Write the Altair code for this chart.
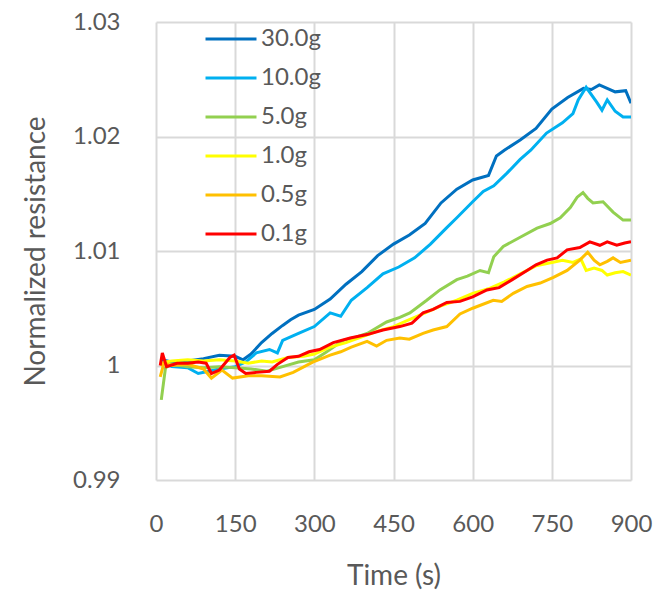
import altair as alt
import pandas as pd

# Normalized resistance vs. time for each applied load
labels = ["30.0g", "10.0g", "5.0g", "1.0g", "0.5g", "0.1g"]
colors = ["#0070C0", "#00B0F0", "#92D050", "#FFFF00", "#FFC000", "#FF0000"]

t_30 = [10, 30, 60, 90, 120, 150, 165, 180, 200, 220, 240, 255, 270, 300, 330, 360, 390, 420,
        450, 480, 510, 540, 570, 600, 630, 645, 660, 690, 720, 750, 780, 810, 825, 840, 870, 890, 900]
r_30 = [1.0005, 1.0003, 1.0004, 1.0006, 1.0009, 1.0008, 1.0005, 1.0010, 1.0020, 1.0028, 1.0035,
        1.0040, 1.0044, 1.0049, 1.0058, 1.0071, 1.0082, 1.0096, 1.0106, 1.0114, 1.0124, 1.0142,
        1.0154, 1.0162, 1.0166, 1.0183, 1.0188, 1.0197, 1.0207, 1.0224, 1.0234, 1.0242, 1.0241,
        1.0245, 1.0239, 1.0240, 1.0229]

t_10 = [10, 30, 60, 80, 100, 120, 150, 170, 190, 215, 230, 240, 270, 300, 330, 350, 370, 400,
        430, 460, 490, 520, 550, 570, 600, 620, 640, 665, 690, 710, 740, 770, 790, 800, 815, 835,
        845, 855, 870, 885, 900]
r_10 = [1.0003, 0.9999, 0.9998, 0.9993, 0.9995, 0.9997, 0.9999, 1.0003, 1.0011, 1.0014, 1.0011,
        1.0022, 1.0028, 1.0034, 1.0046, 1.0043, 1.0057, 1.0068, 1.0080, 1.0086, 1.0094, 1.0106,
        1.0120, 1.0129, 1.0143, 1.0152, 1.0157, 1.0168, 1.0180, 1.0188, 1.0203, 1.0212, 1.0220,
        1.0232, 1.0243, 1.0230, 1.0223, 1.0232, 1.0222, 1.0217, 1.0217]

t_5 = [10, 18, 30, 60, 90, 120, 150, 180, 210, 240, 270, 300, 320, 355, 380, 400, 437, 462, 481,
       513, 538, 570, 590, 614, 630, 640, 658, 690, 722, 747, 766, 785, 798, 809, 818, 828, 847,
       866, 885, 900]
r_5 = [0.9970, 0.9998, 1.0001, 0.9999, 0.9998, 0.9999, 0.9998, 0.9997, 0.9995, 0.9999, 1.0003,
       1.0005, 1.0011, 1.0022, 1.0025, 1.0028, 1.0038, 1.0042, 1.0046, 1.0057, 1.0066, 1.0075,
       1.0078, 1.0083, 1.0081, 1.0095, 1.0104, 1.0112, 1.0120, 1.0124, 1.0129, 1.0138, 1.0147,
       1.0151, 1.0146, 1.0142, 1.0143, 1.0134, 1.0127, 1.0127]

t_1 = [8, 15, 30, 60, 90, 120, 150, 175, 200, 220, 250, 280, 300, 330, 360, 390, 420, 450, 480,
       510, 540, 570, 600, 630, 660, 690, 720, 750, 770, 790, 805, 815, 830, 845, 855, 870, 885, 900]
r_1 = [1.0000, 1.0003, 1.0004, 1.0005, 1.0004, 1.0005, 1.0004, 1.0002, 1.0004, 1.0003, 1.0007,
       1.0008, 1.0010, 1.0016, 1.0020, 1.0025, 1.0030, 1.0034, 1.0040, 1.0046, 1.0052, 1.0057,
       1.0063, 1.0067, 1.0073, 1.0080, 1.0087, 1.0090, 1.0092, 1.0090, 1.0093, 1.0083, 1.0085,
       1.0083, 1.0079, 1.0081, 1.0082, 1.0079]

t_05 = [8, 15, 30, 60, 90, 105, 125, 145, 175, 200, 235, 260, 297, 330, 350, 370, 400, 418, 437,
        462, 480, 506, 525, 551, 576, 600, 639, 655, 677, 703, 728, 753, 779, 803, 818, 830, 841,
        855, 866, 880, 900]
r_05 = [0.9990, 1.0002, 1.0000, 1.0001, 0.9997, 0.9989, 0.9996, 0.9989, 0.9991, 0.9991, 0.9990,
        0.9994, 1.0003, 1.0009, 1.0012, 1.0016, 1.0021, 1.0017, 1.0022, 1.0024, 1.0023, 1.0028,
        1.0031, 1.0034, 1.0045, 1.0050, 1.0057, 1.0056, 1.0063, 1.0069, 1.0072, 1.0077, 1.0083,
        1.0092, 1.0099, 1.0092, 1.0088, 1.0091, 1.0094, 1.0090, 1.0092]

t_01 = [8, 12, 20, 40, 60, 80, 95, 105, 120, 140, 148, 158, 170, 190, 215, 230, 250, 270, 290,
        310, 336, 368, 400, 430, 462, 485, 506, 525, 551, 576, 600, 627, 650, 675, 703, 720, 741,
        760, 779, 803, 822, 841, 855, 873, 888, 900]
r_01 = [1.0000, 1.0011, 0.9999, 1.0002, 1.0002, 1.0003, 1.0002, 0.9993, 0.9996, 1.0007, 1.0009,
        0.9997, 0.9993, 0.9994, 0.9995, 1.0001, 1.0007, 1.0008, 1.0012, 1.0014, 1.0020, 1.0024,
        1.0027, 1.0031, 1.0034, 1.0037, 1.0046, 1.0049, 1.0055, 1.0056, 1.0060, 1.0066, 1.0068,
        1.0075, 1.0083, 1.0088, 1.0092, 1.0094, 1.0101, 1.0103, 1.0108, 1.0105, 1.0108, 1.0105,
        1.0107, 1.0108]

series = [(t_30, r_30), (t_10, r_10), (t_5, r_5), (t_1, r_1), (t_05, r_05), (t_01, r_01)]

rows = []
for k, (name, (ts, rs)) in enumerate(zip(labels, series)):
    for t, r in zip(ts, rs):
        rows.append({"load": name, "rank": k, "time": t, "resistance": r})
df = pd.DataFrame(rows)

FONT = "Lato"
GREY = "#595959"
GRID = "#D9D9D9"

chart = (
    alt.Chart(df)
    .mark_line(strokeWidth=3, clip=True)
    .encode(
        x=alt.X(
            "time:Q",
            scale=alt.Scale(domain=[0, 900], nice=False, zero=False),
            axis=alt.Axis(
                title="Time (s)",
                values=[0, 150, 300, 450, 600, 750, 900],
                labelFontSize=24,
                labelColor=GREY,
                labelPadding=32,
                labelFlush=False,
                labelOverlap=False,
                titleFontSize=28,
                titleFontWeight="normal",
                titleColor=GREY,
                titlePadding=26,
                grid=True,
                gridColor=GRID,
                gridWidth=2,
                ticks=False,
                domain=False,
            ),
        ),
        y=alt.Y(
            "resistance:Q",
            scale=alt.Scale(domain=[0.99, 1.03], nice=False, zero=False),
            axis=alt.Axis(
                title="Normalized resistance",
                values=[0.99, 1.0, 1.01, 1.02, 1.03],
                labelExpr="datum.value == 1 ? '1' : format(datum.value, '.2f')",
                labelFontSize=24,
                labelColor=GREY,
                labelPadding=36,
                labelFlush=False,
                titleFontSize=28,
                titleFontWeight="normal",
                titleColor=GREY,
                titlePadding=22,
                grid=True,
                gridColor=GRID,
                gridWidth=2,
                ticks=False,
                domain=False,
            ),
        ),
        color=alt.Color(
            "load:N",
            scale=alt.Scale(domain=labels, range=colors),
            sort=labels,
            legend=alt.Legend(
                title=None,
                orient="none",
                legendX=48,
                legendY=-10,
                symbolType="stroke",
                symbolSize=2600,
                symbolStrokeWidth=3,
                labelFontSize=24,
                labelColor=GREY,
                labelOffset=3,
                rowPadding=0,
                padding=0,
            ),
        ),
        detail="rank:O",
    )
    .properties(
        width=475,
        height=458,
        autosize="none",
        padding={"left": 156, "top": 22, "right": 30, "bottom": 121},
    )
    .configure(font=FONT)
    .configure_view(stroke=None)
)

chart.save("out.html", embed_options={"renderer": "svg", "actions": False})
